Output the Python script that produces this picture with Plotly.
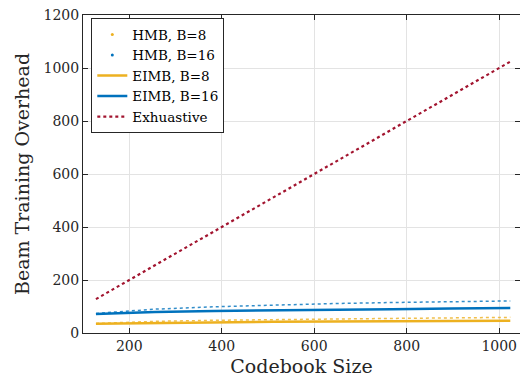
import plotly.graph_objects as go

codebook = [128, 256, 384, 512, 640, 768, 896, 1024]
hmb_b8 = [36, 44, 48, 51, 54, 55, 57, 59]
hmb_b16 = [74, 90, 99, 106, 111, 115, 119, 121]
eimb_b8 = [35, 38, 40, 42, 43, 44, 45, 46]
eimb_b16 = [72, 79, 83, 86, 88, 90, 92, 94]
exhaustive = [128, 256, 384, 512, 640, 768, 896, 1024]

x_ticks = [200, 400, 600, 800, 1000]
y_ticks = [0, 200, 400, 600, 800, 1000, 1200]

C8 = "#EDB120"
C16 = "#0072BD"
CEX = "#A2142F"
AX = "#262626"
FONT = "DejaVu Serif"

fig = go.Figure()

# legend-only markers for HMB entries (MATLAB shows a single dot)
fig.add_trace(go.Scatter(x=[None], y=[None], mode="markers", name="HMB, B=8",
                         marker=dict(color=C8, size=3)))
fig.add_trace(go.Scatter(x=[None], y=[None], mode="markers", name="HMB, B=16",
                         marker=dict(color=C16, size=3)))
fig.add_trace(go.Scatter(x=codebook, y=eimb_b8, mode="lines", name="EIMB, B=8",
                         line=dict(color=C8, width=2.5)))
fig.add_trace(go.Scatter(x=codebook, y=eimb_b16, mode="lines", name="EIMB, B=16",
                         line=dict(color=C16, width=2.5)))
fig.add_trace(go.Scatter(x=codebook, y=exhaustive, mode="lines", name="Exhuastive",
                         line=dict(color=CEX, width=2.2, dash="dot")))
fig.add_trace(go.Scatter(x=codebook, y=hmb_b8, mode="lines", showlegend=False,
                         line=dict(color=C8, width=1.5, dash="dot"), opacity=0.8))
fig.add_trace(go.Scatter(x=codebook, y=hmb_b16, mode="lines", showlegend=False,
                         line=dict(color=C16, width=1.5, dash="dot"), opacity=0.8))

axis_common = dict(
    showline=True, linecolor=AX, linewidth=1, mirror="ticks",
    ticks="inside", ticklen=5, tickcolor=AX,
    showgrid=True, gridcolor="#e3e3e3", gridwidth=1, zeroline=False,
    tickfont=dict(family=FONT, size=14, color=AX),
    automargin=False,
)

fig.update_layout(
    width=520, height=390,
    margin=dict(l=83, r=0, t=15, b=57),
    paper_bgcolor="white", plot_bgcolor="white",
    font=dict(family=FONT, color=AX),
    xaxis=dict(range=[100, 1045], tickvals=x_ticks,
               title=dict(text="Codebook Size", font=dict(family=FONT, size=19, color=AX), standoff=6),
               **axis_common),
    yaxis=dict(range=[0, 1200], tickvals=y_ticks,
               title=dict(text="Beam Training Overhead", font=dict(family=FONT, size=19, color=AX), standoff=8),
               **axis_common),
    legend=dict(x=0.019, y=0.99, xanchor="left", yanchor="top",
                bgcolor="white", bordercolor=AX, borderwidth=1,
                font=dict(family=FONT, size=13.5, color="black"),
                itemwidth=30, tracegroupgap=0),
    showlegend=True,
)

fig.write_html("out.html", config={"displayModeBar": False},
               post_script="document.body.style.margin='0';document.body.style.overflow='hidden';")
